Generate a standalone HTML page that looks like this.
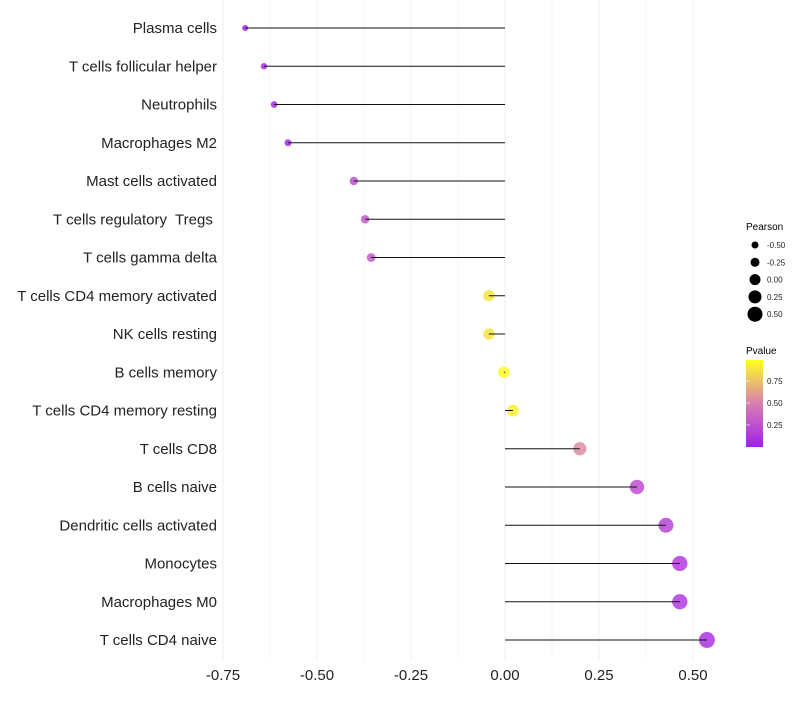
<!DOCTYPE html>
<html><head><meta charset="utf-8"><style>
body{margin:0;background:#fff;font-family:"Liberation Sans",sans-serif}
svg text{font-family:"Liberation Sans",sans-serif;white-space:pre}
</style></head><body>
<svg id="chart" width="800" height="700">
<defs><linearGradient id="pg" x1="0" y1="1" x2="0" y2="0">
<stop offset="0" stop-color="#a01ff0"/><stop offset="0.5" stop-color="#d97fb0"/><stop offset="1" stop-color="#ffff20"/>
</linearGradient></defs>
<g id="grid"></g>
<g id="marks"></g>
<g id="axes"></g>
<g id="legend">
<text x="746" y="230" font-size="10">Pearson</text>
<text x="746" y="354" font-size="10">Pvalue</text>
<rect x="746" y="360" width="17" height="87" fill="url(#pg)"/>
</g>
</svg>
<script>
const categories=["Plasma cells","T cells follicular helper","Neutrophils","Macrophages M2","Mast cells activated","T cells regulatory  Tregs ","T cells gamma delta","T cells CD4 memory activated","NK cells resting","B cells memory","T cells CD4 memory resting","T cells CD8","B cells naive","Dendritic cells activated","Monocytes","Macrophages M0","T cells CD4 naive"];
const pearson=[-0.691,-0.641,-0.614,-0.577,-0.402,-0.372,-0.356,-0.043,-0.043,-0.003,0.021,0.199,0.351,0.428,0.465,0.465,0.537];
const pvalues=[0.02,0.05,0.05,0.07,0.25,0.3,0.3,0.9,0.9,0.99,0.95,0.55,0.25,0.2,0.15,0.15,0.1];
const xTicks=[-0.75,-0.5,-0.25,0,0.25,0.5];
const xTickLabels=["-0.75","-0.50","-0.25","0.00","0.25","0.50"];
const sizeLegend=[-0.5,-0.25,0,0.25,0.5];
const sizeLegendLabels=["-0.50","-0.25","0.00","0.25","0.50"];
const pTicks=[0.25,0.5,0.75];
const pTickLabels=["0.25","0.50","0.75"];

const NS="http://www.w3.org/2000/svg";
const x=v=>505+v*376;
const y=i=>28+i*38.25;
const r=v=>5.8+4*v;
const py=p=>447-p*88;
function lerp(a,b,t){return a.map((c,k)=>Math.round(c+(b[k]-c)*t));}
function col(p){const s0=[160,31,240],s1=[217,127,176],s2=[255,255,32];
 const c=p<0.5?lerp(s0,s1,p/0.5):lerp(s1,s2,(p-0.5)/0.5);return `rgb(${c.join(",")})`;}
function mk(tag,attrs,parent){const e=document.createElementNS(NS,tag);for(const k in attrs)e.setAttribute(k,attrs[k]);parent.appendChild(e);return e;}
const grid=document.getElementById('grid'),marks=document.getElementById('marks'),axes=document.getElementById('axes'),legend=document.getElementById('legend');
for(let v=-0.875;v<=0.625;v+=0.125){const X=x(v);if(X<210||X>728)continue;
 const l=mk('line',{x1:X,x2:X,y1:0,y2:660,stroke:'#efefef','stroke-width':Math.abs((v/0.25)%1)<1e-6?1:0.6},grid);
 
 }
xTicks.forEach((v,i)=>{const t=mk('text',{x:x(v),y:680,'font-size':15,'text-anchor':'middle',fill:'#222'},axes);t.textContent=xTickLabels[i];
 
 });
categories.forEach((c,i)=>{
 const t=mk('text',{x:217,y:y(i)+5,'font-size':15,'text-anchor':'end',fill:'#222'},axes);t.textContent=c;
 
 
 const d=mk('circle',{cx:x(pearson[i]),cy:y(i),r:r(pearson[i]),fill:col(pvalues[i]),'fill-opacity':0.85},marks);
 
 
 const s=mk('line',{x1:x(0),x2:x(pearson[i]),y1:y(i),y2:y(i),stroke:'#111','stroke-width':1},marks);
 
 
});
sizeLegend.forEach((v,i)=>{const cy=245+i*17.3;
 const c=mk('circle',{cx:755,cy:cy,r:r(v)-0.3,fill:'#000'},legend);
 
 
 const t=mk('text',{x:767,y:cy+3,'font-size':8,fill:'#222'},legend);t.textContent=sizeLegendLabels[i];
 
 });
pTicks.forEach((p,i)=>{
 const t=mk('text',{x:767,y:py(p)+3,'font-size':8,fill:'#222'},legend);t.textContent=pTickLabels[i];
 
 
 const l=mk('line',{x1:746,x2:750,y1:py(p),y2:py(p),stroke:'#fff','stroke-width':0.6},legend);
 
 });
</script>
</body></html>
